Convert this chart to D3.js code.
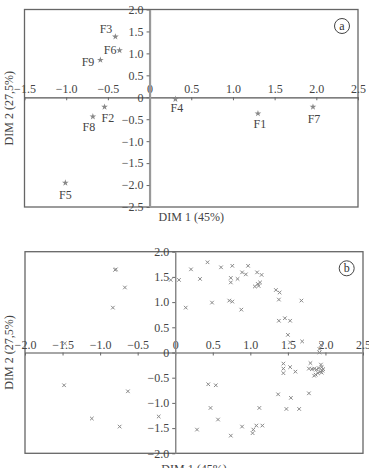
<!DOCTYPE html>
<html><head><meta charset="utf-8">
<script src="https://cdn.jsdelivr.net/npm/d3@7"></script>
<style>
html,body{margin:0;padding:0;background:#fff;}
svg{display:block;}
svg text{font-family:'Liberation Serif','DejaVu Serif',serif;}
</style></head>
<body>
<svg id="chart" width="369" height="468"></svg>
<script>
// ---- Data: panel (a) ----
const aNames = ["F1","F2","F3","F4","F5","F6","F7","F8","F9"];
const aX = [1.30,-0.54,-0.41,0.31,-1.01,-0.36,1.96,-0.68,-0.59];
const aY = [-0.37,-0.22,1.38,-0.04,-1.95,1.07,-0.22,-0.44,0.85];
const aXTicks = [-1.5,-1.0,-0.5,0,0.5,1.0,1.5,2.0,2.5];
const aYTicks = [-2.5,-2.0,-1.5,-1.0,-0.5,0,0.5,1.0,1.5,2.0];

// ---- Data: panel (b) ----
const bX = [-0.80,-0.79,-0.67,-0.83,-1.47,
  -0.06,0.05,0.21,0.14,0.33,0.43,0.49,0.61,0.76,0.74,0.74,0.83,0.72,0.76,0.89,0.94,0.88,0.97,
  1.09,1.15,1.13,1.10,1.06,1.11,1.34,1.39,1.38,1.68,1.38,1.46,1.53,1.50,1.53,1.69,1.94,1.92,1.92,
  1.44,1.44,1.44,1.53,1.60,1.80,1.78,1.82,1.85,1.88,1.91,1.95,1.96,1.93,1.90,1.87,1.85,1.95,1.97,1.94,
  1.37,1.54,1.78,1.12,1.48,1.65,1.08,1.16,1.04,1.03,
  0.89,0.74,0.29,0.57,0.47,0.44,0.54,-0.22,
  -1.48,-0.63,-1.11,-0.74];
const bY = [1.64,1.65,1.29,0.89,0.18,
  1.44,1.44,1.65,0.89,1.46,1.79,0.99,1.69,1.72,1.48,1.39,1.46,1.03,1.01,1.59,1.55,0.85,1.72,
  1.59,1.54,1.39,1.36,1.31,1.32,1.24,1.19,1.05,1.03,0.63,0.68,0.63,0.35,0.20,0.22,0.15,0.07,0.00,
  -0.22,-0.32,-0.41,-0.29,-0.38,-0.21,-0.32,-0.33,-0.32,-0.34,-0.31,-0.29,-0.36,-0.38,-0.41,-0.44,-0.46,-0.40,-0.33,-0.24,
  -0.83,-0.90,-0.81,-1.10,-1.12,-1.12,-1.45,-1.45,-1.53,-1.60,
  -1.47,-1.65,-1.53,-1.33,-1.10,-0.63,-0.65,-1.27,
  -0.65,-0.77,-1.31,-1.47];
const bXTicks = [-2.0,-1.5,-1.0,-0.5,0,0.5,1.0,1.5,2.0,2.5];
const bYTicks = [-2.0,-1.5,-1.0,-0.5,0,0.5,1.0,1.5,2.0];

const xTitle = "DIM 1 (45%)";
const yTitle = "DIM 2 (27,5%)";

// label placement for panel (a) (style, not data)
const aLabelPlace = {
  F1:{a:"middle",dx:2,dy:14}, F2:{a:"start",dx:-3,dy:15}, F3:{a:"end",dx:-3,dy:-4},
  F4:{a:"middle",dx:1.5,dy:13}, F5:{a:"middle",dx:0,dy:16}, F6:{a:"end",dx:-3,dy:4},
  F7:{a:"middle",dx:1,dy:16}, F8:{a:"middle",dx:-4,dy:14}, F9:{a:"end",dx:-6,dy:6}
};

const FONT = "'Liberation Serif','DejaVu Serif',serif";
const svg = d3.select("#chart");
const textCol = "#444";
const fmt = d => d === 0 ? "0" : d3.format(".1f")(d);

function styleText(sel) {
  return sel.attr("fill", textCol).attr("font-family", FONT).attr("font-size", 12);
}

function panel(box, xDom, yDom, xTicks, yTicks, letter, opts) {
  const x = d3.scaleLinear().domain(xDom).range([box.l, box.r]);
  const y = d3.scaleLinear().domain(yDom).range([box.b, box.t]);
  const g = svg.append("g");
  g.append("rect").attr("x", box.l).attr("y", box.t)
    .attr("width", box.r - box.l).attr("height", box.b - box.t)
    .attr("fill", "none").attr("stroke", "#666").attr("stroke-width", 1.3);
  const xa = g.append("g").attr("transform", `translate(0,${y(0)})`)
    .call(d3.axisBottom(x).tickValues(xTicks).tickFormat(fmt).tickSize(3).tickSizeOuter(0));
  xa.attr("font-family", FONT).attr("font-size", 12);
  xa.select(".domain").attr("stroke", opts.hCol).attr("stroke-width", 1.3);
  xa.selectAll(".tick line").attr("stroke", "#666");
  styleText(xa.selectAll(".tick text")).attr("y", -4).attr("dy", 0);
  const ya = g.append("g").attr("transform", `translate(${x(0)},0)`)
    .call(d3.axisLeft(y).tickValues(yTicks).tickFormat(fmt).tickSize(3).tickPadding(3).tickSizeOuter(0));
  ya.attr("font-family", FONT).attr("font-size", 12);
  ya.select(".domain").attr("stroke", opts.vCol).attr("stroke-width", opts.vW);
  ya.selectAll(".tick line").attr("stroke", "#666");
  styleText(ya.selectAll(".tick text"));
  styleText(g.append("text").attr("x", (box.l + box.r) / 2).attr("y", box.b + opts.xtY)
    .attr("text-anchor", "middle")).text(xTitle);
  styleText(g.append("text").attr("transform", `translate(13,${(box.t + box.b) / 2}) rotate(-90)`)
    .attr("text-anchor", "middle")).text(yTitle);
  g.append("circle").attr("cx", opts.badge[0]).attr("cy", opts.badge[1]).attr("r", 7.5)
    .attr("fill", "none").attr("stroke", "#444").attr("stroke-width", 1);
  styleText(g.append("text").attr("x", opts.badge[0]).attr("y", opts.badge[1] + 4)
    .attr("text-anchor", "middle")).attr("fill", "#333").text(letter);
  return {g, x, y};
}

// Panel (a)
const A = panel({l:24.5, r:358, t:9.5, b:207}, [-1.5, 2.5], [-2.5, 2.0], aXTicks, aYTicks, "a",
  {hCol:"#555", vCol:"#999", vW:2.2, badge:[342,26], xtY:14});
const starSym = d3.symbol().type(d3.symbolStar).size(14);
A.g.selectAll("path.pt").data(aNames).join("path").attr("class","pt")
  .attr("transform", (d,i) => `translate(${A.x(aX[i])},${A.y(aY[i])})`)
  .attr("d", starSym).attr("fill", "#888");
styleText(A.g.selectAll("text.lbl").data(aNames).join("text").attr("class","lbl")
  .attr("x", (d,i) => A.x(aX[i]) + aLabelPlace[d].dx)
  .attr("y", (d,i) => A.y(aY[i]) + aLabelPlace[d].dy)
  .attr("text-anchor", d => aLabelPlace[d].a)).text(d => d);

// Panel (b)
const B = panel({l:25, r:363, t:251.7, b:453.3}, [-2.0, 2.5], [-2.0, 2.0], bXTicks, bYTicks, "b",
  {hCol:"#888", vCol:"#888", vW:1.5, badge:[346.7,268.3], xtY:20});
const xSym = d3.symbol().type(d3.symbolX).size(10);
B.g.selectAll("path.pt").data(bX).join("path").attr("class","pt")
  .attr("transform", (d,i) => `translate(${B.x(bX[i])},${B.y(bY[i])})`)
  .attr("d", xSym).attr("fill", "none").attr("stroke", "#888").attr("stroke-width", 1);
</script>
</body></html>
